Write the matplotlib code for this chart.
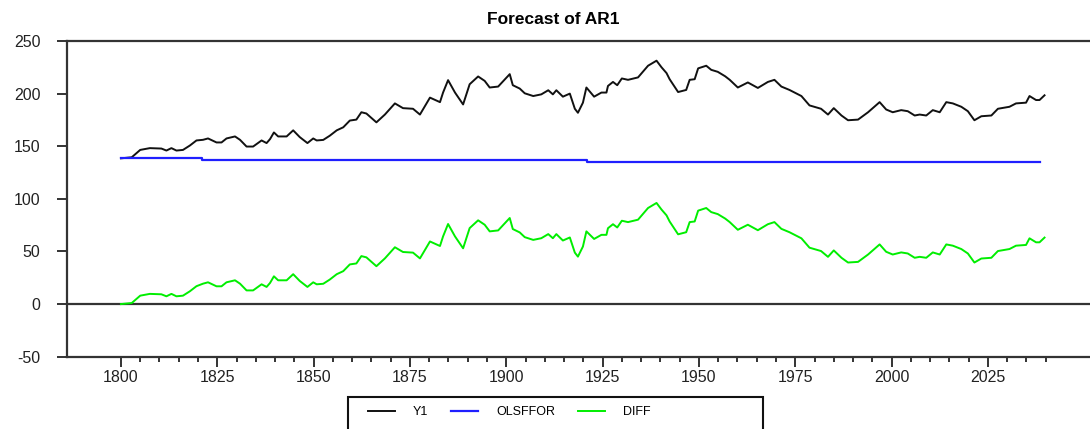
import numpy as np
import matplotlib
matplotlib.use('Agg')
import matplotlib.pyplot as plt
from matplotlib.patches import Rectangle
from matplotlib.ticker import FixedLocator

# values
years = [1800.0, 1802.8, 1805.0, 1807.5, 1810.5, 1811.8, 1813.1, 1814.4, 1816.1,
         1817.9, 1819.6, 1821.3, 1822.6, 1824.8, 1826.1, 1827.4, 1829.6, 1830.9,
         1832.6, 1834.3, 1836.5, 1837.8, 1838.7, 1839.7, 1840.8, 1843.0, 1844.7,
         1846.4, 1848.4, 1849.9, 1850.8, 1852.5, 1854.2, 1856.0, 1857.7, 1859.4,
         1861.1, 1862.4, 1863.7, 1866.3, 1868.5, 1871.1, 1873.2, 1875.8, 1877.6,
         1880.2, 1882.8, 1883.6, 1884.9, 1886.7, 1888.8, 1890.5, 1892.7, 1894.4,
         1895.7, 1897.9, 1900.9, 1901.7, 1903.5, 1904.8, 1907.0, 1909.1, 1910.9,
         1912.1, 1913.0, 1914.7, 1916.5, 1917.8, 1918.6, 1919.9, 1920.8, 1922.8,
         1924.7, 1926.0, 1926.4, 1927.7, 1928.8, 1930.0, 1931.6, 1934.2, 1936.8,
         1939.0, 1940.3, 1941.6, 1942.4, 1944.6, 1946.7, 1947.6, 1948.9, 1949.8,
         1951.9, 1953.2, 1954.9, 1956.8, 1958.0, 1960.1, 1962.7, 1965.3, 1967.9,
         1969.6, 1971.4, 1973.5, 1976.6, 1978.7, 1981.7, 1983.5, 1985.0, 1987.0,
         1988.7, 1991.3, 1993.9, 1996.9, 1998.6, 2000.3, 2002.5, 2004.2, 2006.0,
         2007.3, 2009.0, 2010.7, 2012.5, 2014.2, 2015.9, 2018.1, 2019.8, 2021.5,
         2023.3, 2025.9, 2027.6, 2030.6, 2032.3, 2034.9, 2035.8, 2037.5, 2038.4,
         2039.7]
y1 = [138.5, 139.5, 146.5, 148.2, 147.8, 145.9, 148.2, 145.9, 146.5,
      150.7, 155.5, 156.1, 157.4, 153.6, 153.6, 157.4, 159.3, 156.1,
      149.7, 149.7, 155.5, 153.0, 156.8, 163.1, 159.3, 159.3, 165.1,
      158.7, 153.0, 157.4, 155.5, 156.0, 160.0, 165.1, 168.0, 174.4,
      175.3, 182.3, 181.1, 172.7, 180.1, 190.7, 186.2, 185.6, 180.1,
      196.2, 191.9, 201.0, 212.8, 201.0, 189.7, 208.9, 216.3, 212.1,
      205.8, 206.7, 218.5, 208.0, 204.8, 200.3, 197.7, 199.3, 203.2,
      199.3, 203.2, 197.1, 200.0, 185.6, 181.8, 191.4, 205.8, 197.1,
      201.0, 201.0, 207.3, 211.1, 208.0, 214.4, 213.1, 215.4, 226.5,
      231.3, 225.0, 219.5, 213.7, 201.5, 203.5, 213.1, 213.7, 224.0,
      226.5, 222.6, 220.7, 216.5, 213.1, 205.8, 210.6, 205.4, 211.1,
      213.1, 206.7, 203.5, 197.7, 188.8, 185.6, 180.1, 186.2, 179.2,
      174.7, 175.3, 182.3, 191.9, 184.9, 182.3, 184.3, 183.3, 179.2,
      180.1, 179.2, 184.3, 182.3, 191.9, 190.7, 187.5, 183.3, 174.7,
      178.5, 179.2, 185.6, 187.5, 190.7, 191.4, 197.7, 193.9, 193.9,
      198.4]

# OLSFFOR is a step series: level held between break years
ols_breaks = [1800, 1821, 1921, 2038.5]
ols_levels = [138.5, 136.7, 135.2]

year_ticks = [1800, 1825, 1850, 1875, 1900, 1925, 1950, 1975, 2000, 2025]
minor_ticks = [y for y in range(1805, 2041, 5) if y % 25 != 0]
value_ticks = [-50, 0, 50, 100, 150, 200, 250]
series_names = ['Y1', 'OLSFFOR', 'DIFF']

years = np.array(years)
y1 = np.array(y1)
idx = np.clip(np.searchsorted(ols_breaks, years, side='right') - 1, 0, len(ols_levels) - 1)
diff = y1 - np.array(ols_levels)[idx]

W, H = 1090, 429
fig = plt.figure(figsize=(W / 100, H / 100), dpi=100)
ax = fig.add_axes([67 / W, 1 - 356.7 / H, (W - 67) / W, (356.7 - 41) / H])

spine_col = '#333333'
ax.axhline(0, color=spine_col, lw=1.6, zorder=1)
l1, = ax.plot(years, y1, color='#111111', lw=1.4, zorder=2)
l2, = ax.plot(ols_breaks, ols_levels + ols_levels[-1:], drawstyle='steps-post',
              color='#1f1fff', lw=1.6, zorder=3)
l3, = ax.plot(years, diff, color='#00ee00', lw=1.4, zorder=2)

ax.set_xlim(1786, 2051.5)
ax.set_ylim(-50, 250)

for s in ['left', 'bottom', 'top']:
    ax.spines[s].set_color(spine_col)
    ax.spines[s].set_linewidth(1.6)
ax.spines['right'].set_visible(False)

tick_font = dict(family='Liberation Sans', size=11.5)
ax.xaxis.set_major_locator(FixedLocator(year_ticks))
ax.xaxis.set_minor_locator(FixedLocator(minor_ticks))
ax.set_xticklabels([str(t) for t in year_ticks], **tick_font)
ax.yaxis.set_major_locator(FixedLocator(value_ticks))
ax.set_yticklabels([str(t) for t in value_ticks], **tick_font)
ax.tick_params(axis='x', which='major', direction='out', length=7.5, width=1.4,
               color=spine_col, pad=2, labelcolor='#222222')
ax.tick_params(axis='x', which='minor', direction='out', length=3.5, width=1.4,
               color=spine_col)
ax.tick_params(axis='y', which='major', direction='out', length=7, width=1.4,
               color=spine_col, pad=12, labelcolor='#222222')

fig.text(553 / W, 1 - 20 / H, 'Forecast of AR1', ha='center', va='center',
         family='Liberation Sans', fontweight='bold', fontsize=12.5)

# legend box, open at the bottom edge of the picture
fig.patches.append(Rectangle((348.3 / W, -0.05), (762.7 - 348.3) / W,
                             0.05 + 1 - 396.7 / H, transform=fig.transFigure,
                             fill=False, edgecolor='#111111', lw=1.5))
fig.legend([l1, l2, l3], series_names, loc='center left',
           bbox_to_anchor=(368 / W, 1 - 412.3 / H), ncol=3, frameon=False,
           borderpad=0, borderaxespad=0, handlelength=2.16, handletextpad=1.44,
           columnspacing=1.84, prop=dict(family='Liberation Sans', size=9))

fig.savefig('out.png', dpi=100)
